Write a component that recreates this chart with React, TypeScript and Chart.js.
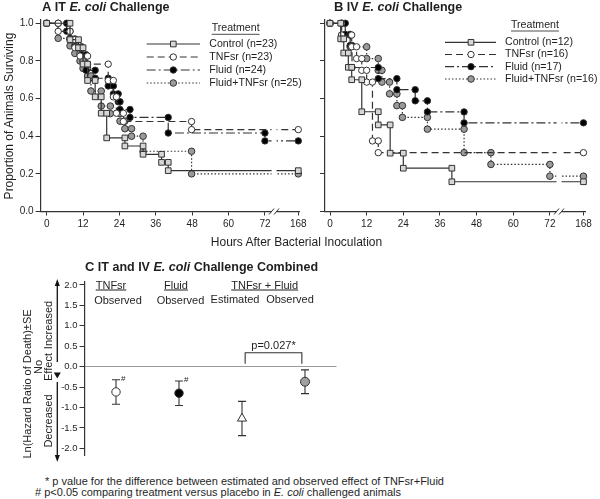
import React, { useEffect, useRef } from 'react';
import { Chart, registerables } from 'chart.js';
Chart.register(...registerables);

const FONT = '"Liberation Sans", Arial, Helvetica, sans-serif';
const INK = '#1f1f1f';
const LINE = '#333333';

// ---------- shared axis data ----------
const hourTicks = [0, 12, 24, 36, 48, 60, 72, 168];
const survivalTicks = [0, 0.2, 0.4, 0.6, 0.8, 1.0];
const studyEndHour = 168;
const BREAK_AXIS_POS = 83; // where 168 h sits on the broken axis
const BREAK_MARK_POS = 75; // where the // break mark is drawn
const axisHour = (h: number) => (h >= 168 ? BREAK_AXIS_POS : h);

const treatmentNames = ['Control', 'TNFsr', 'Fluid', 'Fluid+TNFsr'];
const itGroupSizes = [23, 23, 24, 25];
const ivGroupSizes = [12, 16, 17, 16];

// ---------- Panel A: IT E. coli (event hour, survival after event) ----------
const itControlHours = [7.7, 10.5, 12, 13.5, 16, 18, 19.8, 25.8, 31.8, 37.9, 40.1];
const itControlSurv = [0.913, 0.87, 0.783, 0.696, 0.609, 0.522, 0.391, 0.348, 0.304, 0.261, 0.217];
const itTnfHours = [3.8, 7.7, 9.3, 11, 13.5, 20.3, 22, 23, 25.3, 47.8];
const itTnfSurv = [0.957, 0.913, 0.87, 0.826, 0.783, 0.696, 0.609, 0.522, 0.478, 0.435];
const itFluidHours = [6.6, 7.7, 9.3, 11.5, 13, 16, 20.3, 22, 23.6, 24.2, 27.5, 40.1, 72];
const itFluidSurv = [0.958, 0.917, 0.875, 0.833, 0.75, 0.708, 0.667, 0.625, 0.583, 0.542, 0.5, 0.417, 0.375];
const itComboHours = [3.8, 7.7, 9.3, 11, 12, 13.5, 14.6, 18, 21, 24.2, 25.8, 28, 31.8, 47.8];
const itComboSurv = [0.92, 0.88, 0.84, 0.8, 0.76, 0.72, 0.64, 0.56, 0.52, 0.48, 0.44, 0.4, 0.32, 0.2];

// ---------- Panel B: IV E. coli ----------
const ivControlHours = [3.5, 4.5, 6, 7.1, 10.4, 15.8, 19.7, 24, 39.9];
const ivControlSurv = [0.917, 0.842, 0.766, 0.7, 0.53, 0.46, 0.31, 0.23, 0.158];
const ivTnfHours = [3.8, 7.1, 8.7, 10.4, 12, 13.9, 15.8];
const ivTnfSurv = [0.9375, 0.875, 0.8125, 0.75, 0.6875, 0.375, 0.3125];
const ivFluidHours = [5, 6.6, 7.2, 15.8, 21.9, 27.9, 31.9, 43.9];
const ivFluidSurv = [0.941, 0.882, 0.765, 0.706, 0.647, 0.588, 0.529, 0.471];
const ivComboHours = [3.8, 6.6, 12, 15.8, 17, 19.5, 21.9, 23.7, 31.9, 43.9, 52.7, 72];
const ivComboSurv = [0.9375, 0.875, 0.8125, 0.75, 0.6875, 0.625, 0.5625, 0.5, 0.4375, 0.3125, 0.25, 0.1875];

// ---------- Panel C: ln(hazard ratio) ± SE ----------
const hrGroups = ['TNFsr Observed', 'Fluid Observed', 'TNFsr + Fluid Estimated', 'TNFsr + Fluid Observed'];
const hrMean = [-0.62, -0.65, -1.27, -0.37];
const hrSE = [0.3, 0.3, 0.42, 0.29];
const hrSignificant = [true, true, false, false];
const hazardTicks = [-2, -1.5, -1, -0.5, 0, 0.5, 1, 1.5, 2];
const comparePair = [3, 4];
const compareLabel = 'p=0.027*';

// ---------- styles ----------
const seriesStyles = [
  { dash: [] as number[], pointStyle: 'rect', fill: '#d6d6d6', radius: 4 },
  { dash: [7, 4], pointStyle: 'circle', fill: '#ffffff', radius: 3.2 },
  { dash: [9, 3, 2, 3], pointStyle: 'circle', fill: '#000000', radius: 3.2 },
  { dash: [1.5, 2], pointStyle: 'circle', fill: '#9a9a9a', radius: 3.3 },
];

function kmPoints(hours: number[], surv: number[]) {
  const pts = [{ x: 0, y: 1 }];
  let prev = 1;
  hours.forEach((h, i) => {
    pts.push({ x: axisHour(h), y: prev });
    pts.push({ x: axisHour(h), y: surv[i] });
    prev = surv[i];
  });
  pts.push({ x: axisHour(studyEndHour), y: prev });
  return pts;
}

function drawMarker(ctx: CanvasRenderingContext2D, style: string, x: number, y: number, r: number, fill: string) {
  ctx.save();
  ctx.setLineDash([]);
  ctx.fillStyle = fill;
  ctx.strokeStyle = LINE;
  ctx.lineWidth = 1;
  ctx.beginPath();
  if (style === 'rect') {
    const s = r * Math.SQRT1_2;
    ctx.rect(x - s, y - s, 2 * s, 2 * s);
  } else {
    ctx.arc(x, y, r, 0, Math.PI * 2);
  }
  ctx.fill();
  ctx.stroke();
  ctx.restore();
}

const kmLegendPlugin = {
  id: 'kmLegend',
  afterDraw(chart: any, _a: any, o: any) {
    const ctx: CanvasRenderingContext2D = chart.ctx;
    const ox = o.offsetX, oy = o.offsetY;
    ctx.save();
    ctx.font = `10.6px ${FONT}`;
    ctx.fillStyle = INK;
    ctx.textBaseline = 'middle';
    ctx.textAlign = 'left';
    const hx = o.headerX - ox, hy = o.headerY - oy;
    ctx.fillText('Treatment', hx, hy);
    const w = ctx.measureText('Treatment').width;
    ctx.strokeStyle = INK;
    ctx.lineWidth = 0.8;
    ctx.beginPath();
    ctx.moveTo(hx, hy + 6);
    ctx.lineTo(hx + w, hy + 6);
    ctx.stroke();
    chart.data.datasets.forEach((ds: any, i: number) => {
      const y = o.rows[i] - oy;
      const st = seriesStyles[i];
      ctx.save();
      ctx.strokeStyle = LINE;
      ctx.lineWidth = 1.2;
      ctx.setLineDash(st.dash);
      ctx.beginPath();
      ctx.moveTo(o.lineX0 - ox, y);
      ctx.lineTo(o.lineX1 - ox, y);
      ctx.stroke();
      ctx.restore();
      drawMarker(ctx, st.pointStyle, o.markerX - ox, y, st.radius, st.fill);
      ctx.fillStyle = INK;
      ctx.fillText(ds.label, o.textX - ox, y);
    });
    ctx.restore();
  },
};

const axisBreakPlugin = {
  id: 'axisBreak',
  afterDatasetsDraw(chart: any) {
    const { ctx, chartArea, scales } = chart;
    const px = scales.x.getPixelForValue(BREAK_MARK_POS);
    const b = chartArea.bottom;
    ctx.save();
    ctx.fillStyle = '#ffffff';
    ctx.fillRect(px - 2.5, chartArea.top, 5, b - chartArea.top + 2);
    ctx.strokeStyle = LINE;
    ctx.lineWidth = 1;
    [-2.5, 2.5].forEach((dx) => {
      ctx.beginPath();
      ctx.moveTo(px + dx - 2.5, b + 3);
      ctx.lineTo(px + dx + 2.5, b - 3);
      ctx.stroke();
    });
    ctx.restore();
  },
};

type Box = { left: number; top: number; w: number; h: number };
type Area = { left: number; right: number; top: number; bottom: number };

function KMPanel(props: {
  box: Box; area: Area; xMin: number; series: { hours: number[]; surv: number[] }[];
  sizes: number[]; legend: any; yLabels: boolean;
}) {
  const ref = useRef<HTMLCanvasElement>(null);
  useEffect(() => {
    const { box, area, xMin, series, sizes, legend, yLabels } = props;
    const chart = new Chart(ref.current as HTMLCanvasElement, {
      type: 'line',
      data: {
        datasets: series.map((s, i) => ({
          label: `${treatmentNames[i]} (n=${sizes[i]})`,
          data: kmPoints(s.hours, s.surv),
          borderColor: LINE,
          borderWidth: 1.2,
          borderDash: seriesStyles[i].dash,
          pointStyle: seriesStyles[i].pointStyle as any,
          pointRadius: seriesStyles[i].radius,
          pointBackgroundColor: seriesStyles[i].fill,
          pointBorderColor: LINE,
          pointBorderWidth: 1,
          fill: false,
          tension: 0,
          clip: false as any,
        })),
      },
      options: {
        animation: false,
        responsive: false,
        maintainAspectRatio: false,
        layout: {
          padding: { left: 0, top: area.top - box.top, right: box.left + box.w - area.right, bottom: 0 },
        },
        plugins: {
          legend: { display: false },
          tooltip: { enabled: false },
          kmLegend: { ...legend, offsetX: box.left, offsetY: box.top },
        } as any,
        scales: {
          x: {
            type: 'linear',
            min: xMin,
            max: 83.5,
            afterBuildTicks: (s: any) => {
              s.ticks = hourTicks.map((h) => ({ value: axisHour(h) }));
            },
            afterFit: (s: any) => {
              s.height = box.top + box.h - area.bottom;
            },
            ticks: {
              callback: (_v: any, i: number) => String(hourTicks[i]),
              font: { family: FONT, size: 10 },
              color: INK,
              padding: 3,
              maxRotation: 0,
              autoSkip: false,
            },
            grid: { drawOnChartArea: false, drawTicks: true, tickLength: 4, color: LINE, lineWidth: 1 },
            border: { display: true, color: LINE, width: 1.2 },
          },
          y: {
            type: 'linear',
            min: 0,
            max: 1.02,
            afterBuildTicks: (s: any) => {
              s.ticks = survivalTicks.map((v) => ({ value: v }));
            },
            afterFit: (s: any) => {
              s.width = area.left - box.left;
            },
            ticks: {
              display: yLabels,
              callback: (v: any) => Number(v).toFixed(1),
              font: { family: FONT, size: 10 },
              color: INK,
              padding: 2,
            },
            grid: { drawOnChartArea: false, drawTicks: true, tickLength: 5, color: LINE, lineWidth: 1 },
            border: { display: true, color: LINE, width: 1.2 },
          },
        },
      } as any,
      plugins: [kmLegendPlugin, axisBreakPlugin],
    });
    return () => chart.destroy();
  }, []);
  const { box } = props;
  return (
    <canvas
      ref={ref}
      width={box.w}
      height={box.h}
      style={{ position: 'absolute', left: box.left, top: box.top, width: box.w, height: box.h }}
    />
  );
}

// ---------- Panel C ----------
const errorBarPlugin = {
  id: 'hrDecor',
  beforeDatasetsDraw(chart: any) {
    const { ctx, scales } = chart;
    ctx.save();
    ctx.strokeStyle = LINE;
    ctx.lineWidth = 1.1;
    hrMean.forEach((m, i) => {
      const x = scales.x.getPixelForValue(i + 1);
      const yt = scales.y.getPixelForValue(m + hrSE[i]);
      const yb = scales.y.getPixelForValue(m - hrSE[i]);
      ctx.beginPath();
      ctx.moveTo(x, yt);
      ctx.lineTo(x, yb);
      ctx.moveTo(x - 4, yt);
      ctx.lineTo(x + 4, yt);
      ctx.moveTo(x - 4, yb);
      ctx.lineTo(x + 4, yb);
      ctx.stroke();
    });
    // comparison bracket
    const xa = scales.x.getPixelForValue(comparePair[0] + 0.05);
    const xb = scales.x.getPixelForValue(comparePair[1] - 0.05);
    const yTop = scales.y.getPixelForValue(0.34);
    const yLeg = scales.y.getPixelForValue(0.07);
    ctx.beginPath();
    ctx.moveTo(xa, yLeg);
    ctx.lineTo(xa, yTop);
    ctx.lineTo(xb, yTop);
    ctx.lineTo(xb, yLeg);
    ctx.stroke();
    ctx.fillStyle = INK;
    ctx.font = `11px ${FONT}`;
    ctx.textAlign = 'center';
    ctx.textBaseline = 'middle';
    ctx.fillText(compareLabel, (xa + xb) / 2, yTop - 6.5);
    ctx.restore();
  },
  afterDatasetsDraw(chart: any, _a: any, o: any) {
    const { ctx, scales } = chart;
    ctx.save();
    ctx.fillStyle = INK;
    ctx.font = `8px ${FONT}`;
    ctx.textAlign = 'left';
    ctx.textBaseline = 'middle';
    hrMean.forEach((m, i) => {
      if (!hrSignificant[i]) return;
      const x = scales.x.getPixelForValue(i + 1);
      const yt = scales.y.getPixelForValue(m + hrSE[i]);
      ctx.fillText('#', x + 5, yt - 1);
    });
    // direction arrows (page coords -> canvas)
    const ax = o.arrowX;
    const oy = o.offsetY;
    ctx.strokeStyle = '#111';
    ctx.fillStyle = '#111';
    ctx.lineWidth = 1.3;
    ctx.beginPath();
    ctx.moveTo(ax, 284 - oy);
    ctx.lineTo(ax, 362 - oy);
    ctx.moveTo(ax, 382 - oy);
    ctx.lineTo(ax, 457 - oy);
    ctx.stroke();
    const tri = (pts: number[][]) => {
      ctx.beginPath();
      ctx.moveTo(pts[0][0], pts[0][1]);
      ctx.lineTo(pts[1][0], pts[1][1]);
      ctx.lineTo(pts[2][0], pts[2][1]);
      ctx.closePath();
      ctx.fill();
    };
    tri([[ax, 279 - oy], [ax - 2.5, 286 - oy], [ax + 2.5, 286 - oy]]);
    tri([[ax, 462 - oy], [ax - 2.5, 455 - oy], [ax + 2.5, 455 - oy]]);
    tri([[ax - 3.5, 372.5 - oy], [ax + 3.5, 372.5 - oy], [ax, 378.5 - oy]]);
    ctx.restore();
  },
};

function HazardPanel() {
  const ref = useRef<HTMLCanvasElement>(null);
  const box: Box = { left: 0, top: 255, w: 345, h: 215 };
  const area: Area = { left: 84.5, right: 336.5, top: 281.7, bottom: 455 };
  useEffect(() => {
    const chart = new Chart(ref.current as HTMLCanvasElement, {
      type: 'scatter',
      data: {
        labels: hrGroups,
        datasets: [
          {
            label: 'ln(HR)',
            data: hrMean.map((m, i) => ({ x: i + 1, y: m })),
            pointStyle: ['circle', 'circle', 'triangle', 'circle'] as any,
            pointRadius: [4.2, 4.2, 5.2, 4.5],
            pointBackgroundColor: ['#ffffff', '#000000', '#ffffff', '#a0a0a0'],
            pointBorderColor: LINE,
            pointBorderWidth: 1,
            showLine: false,
            clip: false as any,
          },
        ],
      },
      options: {
        animation: false,
        responsive: false,
        maintainAspectRatio: false,
        layout: {
          padding: {
            left: 0,
            top: area.top - box.top,
            right: box.left + box.w - area.right,
            bottom: box.top + box.h - area.bottom,
          },
        },
        plugins: {
          legend: { display: false },
          tooltip: { enabled: false },
          hrDecor: { arrowX: 57.3, offsetY: box.top },
        } as any,
        scales: {
          x: { type: 'linear', min: 0.5, max: 4.5, display: false },
          y: {
            type: 'linear',
            min: -2.164,
            max: 2.08,
            afterBuildTicks: (s: any) => {
              s.ticks = hazardTicks.map((v) => ({ value: v }));
            },
            afterFit: (s: any) => {
              s.width = area.left - box.left;
            },
            ticks: {
              callback: (v: any) => Number(v).toFixed(1),
              font: { family: FONT, size: 9.5 },
              color: INK,
              padding: 2,
            },
            grid: {
              drawOnChartArea: true,
              drawTicks: true,
              tickLength: 5,
              color: (c: any) => (c.tick && c.tick.value === 0 ? '#9a9a9a' : 'rgba(0,0,0,0)'),
              tickColor: LINE,
              lineWidth: 1,
            },
            border: { display: true, color: LINE, width: 1.2 },
          },
        },
      } as any,
      plugins: [errorBarPlugin],
    });
    return () => chart.destroy();
  }, []);
  return (
    <canvas
      ref={ref}
      width={box.w}
      height={box.h}
      style={{ position: 'absolute', left: box.left, top: box.top, width: box.w, height: box.h }}
    />
  );
}

// ---------- HTML text helper ----------
function T(p: {
  x: number; y: number; size: number; bold?: boolean; italic?: boolean;
  anchor?: 'start' | 'middle' | 'end'; rotate?: boolean; underline?: boolean; children: React.ReactNode;
}) {
  const anchor = p.anchor || 'start';
  const tx = anchor === 'start' ? '0' : anchor === 'middle' ? '-50%' : '-100%';
  const style: React.CSSProperties = {
    position: 'absolute',
    left: p.x,
    top: p.y,
    fontFamily: FONT,
    fontSize: p.size,
    lineHeight: 1,
    whiteSpace: 'nowrap',
    fontWeight: p.bold ? 'bold' : 'normal',
    fontStyle: p.italic ? 'italic' : 'normal',
    textDecoration: p.underline ? 'underline' : 'none',
    color: INK,
    transform: p.rotate ? 'translate(-50%,-50%) rotate(-90deg)' : `translate(${tx},-50%)`,
  };
  return <div style={style}>{p.children}</div>;
}

export default function App() {
  return (
    <div style={{ position: 'absolute', left: 0, top: 0, width: 600, height: 499, background: '#fff', overflow: 'hidden' }}>
      <KMPanel
        box={{ left: 0, top: 0, w: 310, h: 240 }}
        area={{ left: 40.6, right: 299.8, top: 19.5, bottom: 211.5 }}
        xMin={-2}
        series={[
          { hours: itControlHours, surv: itControlSurv },
          { hours: itTnfHours, surv: itTnfSurv },
          { hours: itFluidHours, surv: itFluidSurv },
          { hours: itComboHours, surv: itComboSurv },
        ]}
        sizes={itGroupSizes}
        yLabels={true}
        legend={{ lineX0: 146.7, lineX1: 200, markerX: 173.3, textX: 209.3, headerX: 211.7, headerY: 28.3, rows: [44, 57, 70, 83] }}
      />
      <KMPanel
        box={{ left: 310, top: 0, w: 290, h: 240 }}
        area={{ left: 325, right: 585, top: 19.5, bottom: 211.5 }}
        xMin={-1.64}
        series={[
          { hours: ivControlHours, surv: ivControlSurv },
          { hours: ivTnfHours, surv: ivTnfSurv },
          { hours: ivFluidHours, surv: ivFluidSurv },
          { hours: ivComboHours, surv: ivComboSurv },
        ]}
        sizes={ivGroupSizes}
        yLabels={false}
        legend={{ lineX0: 445, lineX1: 496, markerX: 471, textX: 505, headerX: 511, headerY: 25, rows: [42.3, 54.5, 66.7, 79] }}
      />
      <HazardPanel />

      {/* panel titles */}
      <T x={42} y={7} size={13} bold>
        A<span style={{ fontSize: 12.5 }}> IT <i>E. coli</i> Challenge</span>
      </T>
      <T x={334} y={7} size={13} bold>
        B<span style={{ fontSize: 12.5 }}> IV <i>E. coli</i> Challenge</span>
      </T>
      <T x={85} y={267} size={13} bold>
        C<span style={{ fontSize: 12.5 }}> IT and IV <i>E. coli</i> Challenge Combined</span>
      </T>

      {/* axis titles */}
      <T x={9} y={116} size={12} rotate>Proportion of Animals Surviving</T>
      <T x={296.5} y={242} size={12} anchor="middle">Hours After Bacterial Inoculation</T>

      {/* panel C left labels */}
      <T x={26.7} y={384} size={11} rotate>Ln(Hazard Ratio of Death)±SE</T>
      <T x={47.5} y={325} size={11} rotate>Increased</T>
      <T x={37.5} y={367} size={11} rotate>No</T>
      <T x={48} y={367} size={11} rotate>Effect</T>
      <T x={48} y={421} size={11} rotate>Decreased</T>

      {/* panel C group headers */}
      <T x={111} y={285} size={11} anchor="middle" underline>TNFsr</T>
      <T x={118} y={299.5} size={11} anchor="middle">Observed</T>
      <T x={176} y={285} size={11} anchor="middle" underline>Fluid</T>
      <T x={180.5} y={299.5} size={11} anchor="middle">Observed</T>
      <T x={264.7} y={284.5} size={11} anchor="middle" underline>TNFsr + Fluid</T>
      <T x={235} y={298.5} size={11} anchor="middle">Estimated</T>
      <T x={290} y={298.5} size={11} anchor="middle">Observed</T>

      {/* footnotes */}
      <T x={45} y={480.7} size={11}>* p value for the difference between estimated and observed effect of TNFsr+Fluid</T>
      <T x={35} y={492.3} size={11}># p&lt;0.05 comparing treatment versus placebo in <i>E. coli</i> challenged animals</T>
    </div>
  );
}
